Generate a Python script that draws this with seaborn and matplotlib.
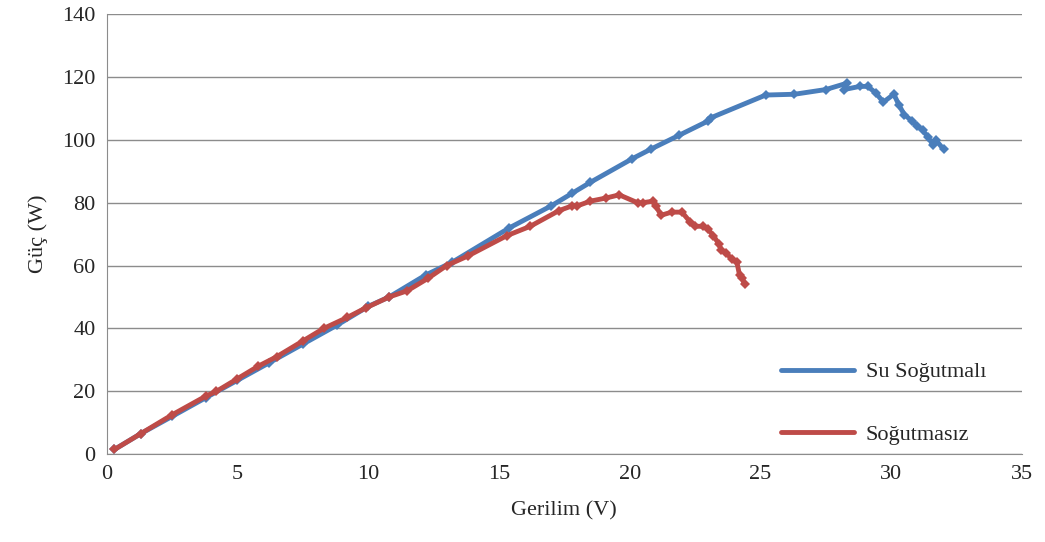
import matplotlib
matplotlib.use("Agg")
import matplotlib.pyplot as plt
import seaborn as sns

su_x = [0.3, 1.3, 2.5, 3.8, 5, 6.2, 7.5, 8.8, 10, 10.8, 12.2, 13.2, 15.4, 17, 17.8, 18.5, 20.1, 20.8,
        21.9, 23, 23.1, 25.2, 25.2, 26.3, 27.5, 28.3, 28.2, 28.8, 29.1, 29.4, 29.7, 30.1, 30.3, 30.5,
        30.8, 31, 31.2, 31.4, 31.6, 31.6, 31.7, 32]
su_y = [1.5, 6.5, 12, 18, 23.5, 29, 35, 41, 47, 50, 57, 61, 72, 79, 83, 86.5, 94, 97,
        101.5, 106, 107, 113.5, 115, 114.5, 116, 118, 116, 117, 117, 115, 112, 114.5, 111, 108,
        106, 104.5, 103, 101, 99.5, 97, 100, 97]
sog_x = [0.3, 1.3, 2.5, 3.8, 4.2, 5, 5.8, 6.5, 7.5, 8.3, 9.2, 9.9, 10.8, 11.5, 12.3, 13, 13.8, 15.3,
         16.2, 17.3, 17.8, 18, 18.5, 19.1, 19.6, 20.3, 20.5, 20.9, 21, 21.2, 21.6, 22, 22.3, 22.5,
         22.8, 23, 23.2, 23.4, 23.5, 23.7, 23.9, 24.1, 24.2, 24.3, 24.4]
sog_y = [1.5, 6.5, 12.5, 18.5, 20, 24, 28, 31, 36, 40, 43.5, 46.5, 50, 52, 56, 60, 63, 69.5,
         72.5, 77.5, 79, 79, 80.5, 81.5, 82.5, 80, 80, 80.5, 79, 76, 77, 77, 74, 72.5,
         72.5, 71.5, 69.5, 67, 65, 64, 62, 61, 57, 56, 54]

sns.set_style("white")
plt.rcParams["font.family"] = ["Liberation Serif", "DejaVu Serif"]
fig = plt.figure(figsize=(10.45, 5.42), dpi=100)
ax = fig.add_axes([0.102, 0.162, 0.876, 0.812])
for xs, ys, c, lab in [(su_x, su_y, "#4a7ebb", "Su Soğutmalı"), (sog_x, sog_y, "#be4b48", "Soğutmasız")]:
    sns.lineplot(x=xs, y=ys, sort=False, color=c, linewidth=3.5, marker="D", markersize=5,
                 markeredgewidth=0, ax=ax, label=lab)
ax.set_xlim(0, 35)
ax.set_ylim(0, 140)
ax.set_xticks(range(0, 36, 5))
ax.set_yticks(range(0, 141, 20))
ax.yaxis.grid(True, color="#8c8c8c", linewidth=1)
for s in ["top", "right"]:
    ax.spines[s].set_visible(False)
for s in ["left", "bottom"]:
    ax.spines[s].set_color("#8c8c8c")
ax.tick_params(labelsize=16, length=0, pad=8)
ax.set_xlabel("Gerilim (V)", fontsize=16, labelpad=12)
ax.set_ylabel("Güç (W)", fontsize=16, labelpad=10)
leg = ax.legend(loc="lower left", bbox_to_anchor=(0.715, -0.025), frameon=False, fontsize=16,
                handlelength=3.3, labelspacing=1.9, handletextpad=0.5)
for h in leg.get_lines():
    h.set_marker("")
fig.savefig("out.png", dpi=100)
